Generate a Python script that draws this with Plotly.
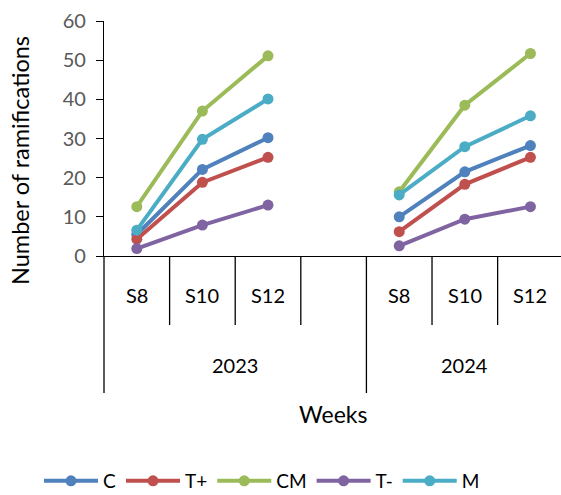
import plotly.graph_objects as go

# Category layout: each year is a group of weeks; 2023 carries one empty slot
years = ["2023", "2024"]
weeks = ["S8", "S10", "S12"]
group_slots = {"2023": ["S8", "S10", "S12", ""], "2024": ["S8", "S10", "S12"]}

# Number of ramifications per treatment (2023 S8, S10, S12, then 2024 S8, S10, S12)
series_names = ["C", "T+", "CM", "T-", "M"]
c_vals = [5.5, 22.1, 30.2, 10.0, 21.5, 28.2]
tplus_vals = [4.3, 18.8, 25.2, 6.2, 18.3, 25.2]
cm_vals = [12.6, 37.0, 51.1, 16.4, 38.5, 51.7]
tminus_vals = [1.9, 7.9, 13.0, 2.6, 9.4, 12.6]
m_vals = [6.6, 29.8, 40.1, 15.6, 27.9, 35.8]
y_ticks = [0, 10, 20, 30, 40, 50, 60]

colors = ["#4F81BD", "#C0504D", "#9BBB59", "#8064A2", "#4BACC6"]
FONT = "Lato"

# Position of every slot along the category axis
slots = []
for yr in years:
    for wk in group_slots[yr]:
        slots.append((yr, wk))
slot_index = {s: i for i, s in enumerate(slots)}

def to_xy(vals):
    xs, ys = [], []
    k = 0
    for gi, yr in enumerate(years):
        if gi > 0:
            xs.append(None)
            ys.append(None)
        for wk in weeks:
            xs.append(slot_index[(yr, wk)])
            ys.append(vals[k])
            k += 1
    return xs, ys

fig = go.Figure()
for name, vals, col in zip(series_names, [c_vals, tplus_vals, cm_vals, tminus_vals, m_vals], colors):
    xs, ys = to_xy(vals)
    fig.add_trace(go.Scatter(
        x=xs, y=ys, name=name, mode="lines+markers",
        line=dict(color=col, width=4),
        marker=dict(color=col, size=11),
        connectgaps=False,
    ))

W, H = 561, 495
L, R, T, B = 104, 0, 21, 239
plot_w, plot_h = W - L - R, H - T - B
x_min, x_max = -0.5, 6.466

def xp(v):
    return (v - x_min) / (x_max - x_min)

def yp(px):
    # pixel row -> paper fraction
    return (H - B - px) / plot_h

shapes = []
annotations = []
n_slots = len(slots)
group_edges = set()
pos = 0
for yr in years:
    group_edges.add(pos)
    pos += len(group_slots[yr])
group_edges.add(pos)

for i in range(n_slots + 1):
    bottom = 393 if i in group_edges else 325
    shapes.append(dict(type="line", xref="paper", yref="paper",
                       x0=xp(i - 0.5), x1=xp(i - 0.5), y0=0, y1=yp(bottom),
                       line=dict(color="black", width=1.3)))

def label(text, x, y, size, angle=0):
    return dict(text=text, xref="paper", yref="paper", x=x, y=y,
                xanchor="center", yanchor="middle", showarrow=False,
                textangle=angle, font=dict(family=FONT, size=size, color="black"))

for (yr, wk), i in slot_index.items():
    if wk:
        annotations.append(label(wk, xp(i), yp(295), 20))

pos = 0
for yr in years:
    n = len(group_slots[yr])
    center = pos + (n - 1) / 2
    annotations.append(label(yr, xp(center), yp(365), 20))
    pos += n

annotations.append(label("Weeks", 0.5, yp(414), 23))
annotations.append(label("Number of ramifications", (20 - L) / plot_w, yp(161), 23.5, -90))

fig.update_layout(
    width=W, height=H,
    margin=dict(l=L, r=R, t=T, b=B, pad=0, autoexpand=False),
    plot_bgcolor="white", paper_bgcolor="white",
    font=dict(family=FONT, size=19, color="black"),
    xaxis=dict(range=[x_min, x_max], showticklabels=False, ticks="",
               showgrid=False, zeroline=False, showline=True,
               linecolor="black", linewidth=1.3),
    yaxis=dict(range=[0, 60], tickvals=y_ticks, ticks="outside", ticklen=7,
               tickcolor="black", tickwidth=1.3, ticklabelstandoff=6,
               showgrid=False, zeroline=False, showline=True,
               linecolor="black", linewidth=1.3,
               tickfont=dict(family=FONT, size=20, color="#595959")),
    showlegend=True,
    legend=dict(orientation="h", xref="container", yref="container",
                x=39 / W, y=1 - 481 / H, xanchor="left", yanchor="middle",
                font=dict(family=FONT, size=19, color="black"),
                itemwidth=54, tracegroupgap=0),
    shapes=shapes,
    annotations=annotations,
)

fig.write_html("out.html")
